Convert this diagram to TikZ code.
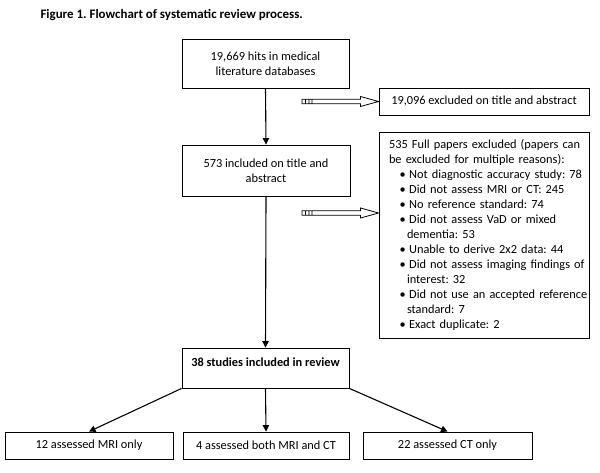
\documentclass[tikz,border=0pt]{standalone}
\usepackage{fontspec}
\setmainfont{Carlito}
\usepackage{tikz}
\usetikzlibrary{arrows.meta,positioning,calc}

\frenchspacing
\newcommand{\exline}[1]{\mbox{#1}}
\newcommand{\bul}[1]{\mbox{\hspace*{10.5bp}•\hspace{3.5bp}#1}}
\newcommand{\cnt}[1]{\mbox{\hspace*{18bp}#1}}

\begin{document}
\begin{tikzpicture}[x=1bp, y=-1bp,
    font=\fontsize{12.4}{15}\selectfont,
    box/.style={draw, line width=0.9bp, align=center, inner sep=2bp},
    arr/.style={line width=1.1bp, -{Triangle[length=6.5bp, width=6.5bp]}},
    hollow/.style={line width=0.8bp, to path={
        ($(\tikztostart)+(0,-2.2)$) -- ($(\tikztotarget)+(-18,-2.2)$)
        -- ($(\tikztotarget)+(-18,-5)$) -- (\tikztotarget)
        -- ($(\tikztotarget)+(-18,5)$) -- ($(\tikztotarget)+(-18,2.2)$)
        -- ($(\tikztostart)+(0,2.2)$) -- cycle
        ($(\tikztostart)+(3.5,-2.2)$) -- ($(\tikztostart)+(3.5,2.2)$)
        ($(\tikztostart)+(7,-2.2)$) -- ($(\tikztostart)+(7,2.2)$)
        ($(\tikztostart)+(10,-2.2)$) -- ($(\tikztostart)+(10,2.2)$)}}]
    \useasboundingbox (0,0) rectangle (600,473);

    % Title
    \node[anchor=west, font=\fontsize{13}{15}\selectfont\bfseries] (title) at (37,15)
        {Figure 1. Flowchart of systematic review process.};

    % Main column
    \node[box, minimum width=167bp, minimum height=49bp] (hits) at (265.5,63.5)
        {19,669 hits in medical\\ literature databases};
    \node[box, minimum width=168bp, minimum height=51bp] (incl) at (266,170.5)
        {573 included on title and\\ abstract};
    \node[box, minimum width=167bp, minimum height=40bp, text height=9bp, text depth=13bp] (studies) at (265.5,368)
        {\textbf{38 studies included in review}};

    % Exclusions
    \node[box, minimum width=210bp, minimum height=27bp] (exTitle) at (484,101.5)
        {19,096 excluded on title and abstract};
    \node[box, align=left, inner xsep=10bp, text width=190bp, minimum height=206bp] (exFull) at (484,235)
        {\exline{535 Full papers excluded (papers can}\\
         \exline{be excluded for multiple reasons):}\\
         \bul{Not diagnostic accuracy study: 78}\\
         \bul{Did not assess MRI or CT: 245}\\
         \bul{No reference standard: 74}\\
         \bul{Did not assess VaD or mixed}\\
         \cnt{dementia: 53}\\
         \bul{Unable to derive 2x2 data: 44}\\
         \bul{Did not assess imaging findings of}\\
         \cnt{interest: 32}\\
         \bul{Did not use an accepted reference}\\
         \cnt{standard: 7}\\
         \bul{Exact duplicate: 2}};

    % Outcome boxes
    \node[box, minimum width=168bp, minimum height=27bp] (mri) at (89,445.5) {12 assessed MRI only};
    \node[box, minimum width=166bp, minimum height=27bp] (both) at (266,445.5) {4 assessed both MRI and CT};
    \node[box, minimum width=169bp, minimum height=27bp] (ct) at (447.5,445.5) {22 assessed CT only};

    % Arrows
    \draw[arr] (hits.south) -- (incl.north);
    \draw[arr] (incl.south) -- (studies.north);
    \draw[arr] (studies.south west) -- (mri.north);
    \draw[arr] (studies.south) -- (both.north);
    \draw[arr] (studies.south east) -- (ct.north);

    % Hollow arrows to exclusions
    \coordinate (tail1) at (302,101.5);
    \coordinate (head1) at (tail1 -| exTitle.west);
    \coordinate (tail2) at (302,213);
    \coordinate (head2) at (tail2 -| exFull.west);
    \draw[hollow] (tail1) to (head1);
    \draw[hollow] (tail2) to (head2);
\end{tikzpicture}
\end{document}
